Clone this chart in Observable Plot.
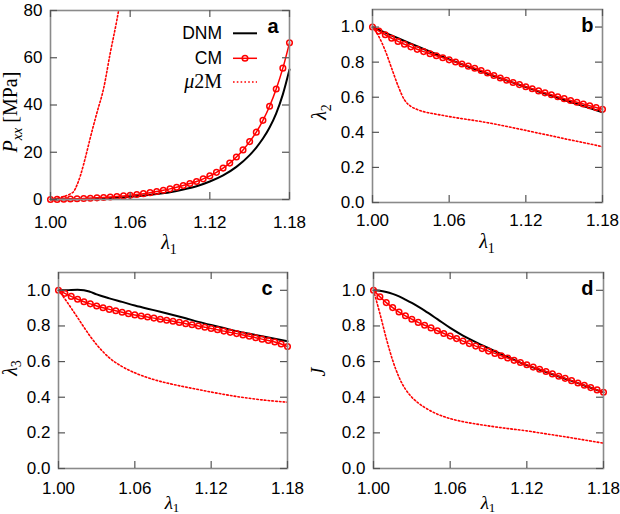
<!DOCTYPE html>
<html><head><meta charset="utf-8">
<script src="https://cdn.jsdelivr.net/npm/d3@7"></script>
<script src="https://cdn.jsdelivr.net/npm/@observablehq/plot@0.6"></script>
<style>
body{margin:0;background:#fff;}
#fig{position:relative;width:620px;height:514px;overflow:hidden;background:#fff;}
.panel{position:absolute;width:310px;height:257px;}
.panel svg{overflow:visible;}
</style></head><body><div id="fig"></div>
<script>
// ---------- data ----------
const xTicks = [1.00, 1.06, 1.12, 1.18];
const pxxTicks = [0, 20, 40, 60, 80];
const stretchTicks = [0, 0.2, 0.4, 0.6, 0.8, 1.0];

// CM grid (markers)
const lamCM = [1.000,1.005,1.010,1.015,1.020,1.025,1.030,1.035,1.040,1.045,1.050,1.055,1.060,1.065,1.070,1.075,1.080,1.085,1.090,1.095,1.100,1.105,1.110,1.115,1.120,1.125,1.130,1.135,1.140,1.145,1.150,1.155,1.160,1.165,1.170,1.175,1.180];
const pxxCM = [0.00,0.05,0.12,0.20,0.30,0.41,0.54,0.69,0.86,1.05,1.27,1.52,1.80,2.12,2.48,2.90,3.37,3.90,4.50,5.20,5.95,6.75,7.65,8.75,10.0,11.5,13.3,15.4,18.0,21.0,24.5,28.5,33.5,39.5,46.8,55.6,66.3];
const l2CM = [1.000,0.977,0.956,0.936,0.918,0.902,0.887,0.873,0.860,0.848,0.836,0.825,0.813,0.801,0.789,0.777,0.765,0.752,0.738,0.724,0.710,0.697,0.684,0.672,0.660,0.648,0.636,0.625,0.614,0.603,0.592,0.581,0.571,0.561,0.551,0.541,0.531];
const l3CM = [1.000,0.983,0.966,0.950,0.936,0.924,0.912,0.902,0.893,0.885,0.877,0.869,0.862,0.856,0.850,0.844,0.838,0.832,0.826,0.820,0.813,0.807,0.800,0.793,0.786,0.779,0.771,0.764,0.757,0.749,0.742,0.734,0.726,0.718,0.710,0.699,0.684];
const jCM  = [1.000,0.964,0.931,0.903,0.878,0.857,0.838,0.820,0.804,0.789,0.773,0.758,0.743,0.729,0.715,0.701,0.687,0.673,0.659,0.646,0.633,0.620,0.607,0.595,0.582,0.569,0.557,0.544,0.531,0.518,0.506,0.493,0.480,0.467,0.454,0.441,0.428];

// DNM
const lamDNMa = [1.00,1.02,1.04,1.06,1.08,1.09,1.10,1.11,1.12,1.13,1.14,1.15,1.155,1.16,1.165,1.17,1.175,1.18];
const pxxDNM  = [0,0.15,0.5,1.15,2.3,3.1,4.2,5.6,7.6,10.2,13.8,18.8,22.0,25.8,30.5,36.5,44.5,55.0];
const lamDNMb = [1.00,1.01,1.02,1.03,1.04,1.05,1.06,1.07,1.08,1.09,1.10,1.11,1.12,1.13,1.14,1.15,1.16,1.17,1.18];
const l2DNM   = [1.000,0.968,0.936,0.905,0.875,0.845,0.816,0.788,0.761,0.734,0.708,0.683,0.658,0.633,0.609,0.584,0.561,0.538,0.514];
const lamDNMc = [1.000,1.005,1.010,1.015,1.020,1.025,1.030,1.040,1.050,1.060,1.070,1.080,1.090,1.100,1.110,1.120,1.130,1.140,1.150,1.160,1.170,1.180];
const l3DNM   = [1.000,1.000,1.002,1.003,1.001,0.991,0.977,0.955,0.935,0.915,0.897,0.880,0.862,0.843,0.823,0.805,0.788,0.771,0.756,0.742,0.728,0.714];
const lamDNMd = [1.000,1.005,1.010,1.015,1.020,1.025,1.030,1.035,1.040,1.050,1.060,1.070,1.080,1.090,1.100,1.110,1.120,1.130,1.140,1.150,1.160,1.170,1.180];
const jDNM    = [1.000,0.998,0.991,0.980,0.966,0.948,0.929,0.908,0.886,0.838,0.789,0.746,0.709,0.675,0.642,0.610,0.580,0.554,0.529,0.504,0.479,0.453,0.427];

// mu2M
const lamMuA = [1.000,1.005,1.010,1.015,1.0175,1.020,1.0225,1.025,1.0275,1.030,1.0325,1.035,1.040,1.045,1.050,1.055];
const pxxMu  = [0,0.5,1.3,2.4,3.4,6.2,10.1,15.0,20.5,26.2,31.6,36.8,47.0,62.0,76.0,92.0];
const lamMu  = [1.000,1.005,1.010,1.015,1.020,1.025,1.030,1.035,1.040,1.050,1.060,1.070,1.080,1.090,1.100,1.110,1.120,1.130,1.140,1.150,1.160,1.170,1.180];
const l2Mu   = [1.000,0.945,0.865,0.765,0.665,0.585,0.548,0.530,0.518,0.503,0.490,0.478,0.467,0.455,0.441,0.426,0.411,0.395,0.380,0.364,0.349,0.334,0.318];
const l3Mu   = [1.000,0.952,0.900,0.847,0.793,0.741,0.695,0.655,0.621,0.572,0.537,0.510,0.489,0.472,0.457,0.443,0.429,0.416,0.404,0.394,0.385,0.378,0.372];
const jMu    = [1.000,0.870,0.730,0.607,0.512,0.445,0.400,0.368,0.343,0.305,0.280,0.263,0.250,0.239,0.229,0.220,0.211,0.200,0.189,0.178,0.166,0.154,0.142];

const seriesNames = ["DNM", "CM", "\u03bc2M"];
const panelLetters = ["a", "b", "c", "d"];

// ---------- drawing ----------
const RED = "#ff0000";
const DOTS = "1.6,2.2";
const SANS = "'Liberation Sans', Arial, Helvetica, sans-serif";
const SERIF = "'Liberation Serif', 'Times New Roman', serif";
const W = 310, H = 257;

function richText(svg, {x, y, rotate = false, anchor = "middle", parts, family = SERIF, size = 20}) {
  const t = d3.select(svg).append("text")
    .attr("transform", `translate(${x},${y})` + (rotate ? " rotate(-90)" : ""))
    .attr("text-anchor", anchor)
    .attr("font-family", family)
    .attr("font-size", size)
    .attr("fill", "#000");
  let shift = 0;
  for (const p of parts) {
    const ts = t.append("tspan").text(p.t);
    if (p.italic) ts.attr("font-style", "italic");
    if (p.bold) ts.attr("font-weight", "bold");
    if (p.size) ts.attr("font-size", p.size);
    const target = p.sub || 0;
    if (target !== shift) { ts.attr("dy", target - shift); shift = target; }
  }
  return t;
}

function panel(cfg) {
  const {left, top, mL, mR, mT, mB, yDomain, yTicks, yFmt, xPad, letter, letterDx, series, extra = []} = cfg;
  const ph = H - mT - mB, pw = W - mL - mR;
  const marks = [
    ...extra,
    Plot.line(series.muX, {x: series.muX, y: series.muY, stroke: RED, strokeWidth: 1.6, strokeDasharray: DOTS, curve: "monotone-x", clip: true}),
    Plot.line(series.dX, {x: series.dX, y: series.dY, stroke: "#000", strokeWidth: 2, curve: "monotone-x"}),
    Plot.line(lamCM, {x: lamCM, y: series.cY, stroke: RED, strokeWidth: 1.5, curve: "monotone-x"}),
    Plot.dot(lamCM, {x: lamCM, y: series.cY, r: 2.8, stroke: RED, strokeWidth: 1.5, fill: "none"}),
    Plot.frame({stroke: "#8a8a8a", strokeWidth: 1.6}),
    Plot.tickX(xTicks, {x: d => d, insetTop: ph - 7, stroke: "#555", strokeWidth: 1.2}),
    Plot.tickX(xTicks, {x: d => d, insetBottom: ph - 7, stroke: "#555", strokeWidth: 1.2}),
    Plot.tickY(yTicks, {y: d => d, insetRight: pw - 7, stroke: "#555", strokeWidth: 1.2}),
    Plot.tickY(yTicks, {y: d => d, insetLeft: pw - 7, stroke: "#555", strokeWidth: 1.2}),
    Plot.axisX(xTicks, {tickSize: 0, tickPadding: xPad, tickFormat: d3.format(".2f"), label: null}),
    Plot.axisY(yTicks, {tickSize: 0, tickPadding: 8, tickFormat: yFmt, label: null}),
    Plot.text([letter], {frameAnchor: "top-right", text: d => d, dx: letterDx, dy: 22, lineAnchor: "bottom", textAnchor: "end", fontWeight: "bold", fontSize: 20, fill: "#000"})
  ];
  const svg = Plot.plot({
    width: W, height: H,
    marginLeft: mL, marginRight: mR, marginTop: mT, marginBottom: mB,
    x: {domain: [1.0, 1.18], label: null},
    y: {domain: yDomain, label: null},
    style: {fontFamily: SANS, fontSize: "17px", color: "#000", background: "transparent", overflow: "visible"},
    marks
  });
  const div = document.createElement("div");
  div.className = "panel";
  div.style.left = left + "px";
  div.style.top = top + "px";
  div.appendChild(svg);
  document.getElementById("fig").appendChild(div);
  return svg;
}

const f1 = d3.format(".1f");

// Panel a
const sa = panel({left: 0, top: 0, mL: 50, mR: 21, mT: 10, mB: 58, yDomain: [0, 80], yTicks: pxxTicks, yFmt: d => String(d), xPad: 16,
  letter: panelLetters[0], letterDx: -11,
  series: {muX: lamMuA, muY: pxxMu, dX: lamDNMa, dY: pxxDNM, cY: pxxCM},
  extra: [Plot.ruleY([0], {stroke: "#999", strokeWidth: 1, strokeDasharray: "1.5,2.5"})]});
// Panel b
const sb = panel({left: 310, top: 0, mL: 62, mR: 18, mT: 9, mB: 55, yDomain: [0, 1.1], yTicks: stretchTicks, yFmt: f1, xPad: 11,
  letter: panelLetters[1], letterDx: -9,
  series: {muX: lamMu, muY: l2Mu, dX: lamDNMb, dY: l2DNM, cY: l2CM}});
// Panel c
const sc = panel({left: 0, top: 257, mL: 58, mR: 23, mT: 15, mB: 46, yDomain: [0, 1.1], yTicks: stretchTicks, yFmt: f1, xPad: 13,
  letter: panelLetters[2], letterDx: -15,
  series: {muX: lamMu, muY: l3Mu, dX: lamDNMc, dY: l3DNM, cY: l3CM}});
// Panel d
const sd = panel({left: 310, top: 257, mL: 63, mR: 17, mT: 15, mB: 46, yDomain: [0, 1.1], yTicks: stretchTicks, yFmt: f1, xPad: 13,
  letter: panelLetters[3], letterDx: -10,
  series: {muX: lamMu, muY: jMu, dX: lamDNMd, dY: jDNM, cY: jCM}});

// axis labels
const lam1 = [{t: "\u03bb", italic: true}, {t: "1", size: 14, sub: 5}];
const lam1low = [{t: "\u03bb", italic: true}, {t: "1", size: 13, sub: 3}];
richText(sa, {x: 169, y: 249, parts: lam1});
richText(sb, {x: 177, y: 248, parts: lam1});
richText(sc, {x: 172, y: 252, size: 19, parts: lam1low});
richText(sd, {x: 178, y: 252, size: 19, parts: lam1low});

richText(sa, {x: 16.5, y: 112, rotate: true, parts: [{t: "P", italic: true}, {t: "xx", italic: true, size: 14, sub: 5}, {t: " [MPa]", sub: 0}]});
richText(sb, {x: 16, y: 112, rotate: true, parts: [{t: "\u03bb", italic: true}, {t: "2", size: 14, sub: 5}]});
richText(sc, {x: 17, y: 111, rotate: true, parts: [{t: "\u03bb", italic: true}, {t: "3", size: 14, sub: 4}]});
richText(sd, {x: 15, y: 115, rotate: true, parts: [{t: "J", italic: true}]});

// legend (panel a)
const lg = d3.select(sa).append("g");
const rows = [33.3, 58.3, 82];
richText(sa, {x: 222, y: 39, anchor: "end", family: SANS, size: 17.5, parts: [{t: seriesNames[0]}]});
richText(sa, {x: 222, y: 64, anchor: "end", family: SANS, size: 17.5, parts: [{t: seriesNames[1]}]});
richText(sa, {x: 222, y: 88, anchor: "end", family: SERIF, size: 20, parts: [{t: "\u03bc", italic: true}, {t: "2M"}]});
lg.append("line").attr("x1", 233).attr("x2", 257).attr("y1", rows[0]).attr("y2", rows[0]).attr("stroke", "#000").attr("stroke-width", 2);
lg.append("line").attr("x1", 233).attr("x2", 257).attr("y1", rows[1]).attr("y2", rows[1]).attr("stroke", RED).attr("stroke-width", 1.5);
lg.append("circle").attr("cx", 245).attr("cy", rows[1]).attr("r", 2.8).attr("fill", "none").attr("stroke", RED).attr("stroke-width", 1.5);
lg.append("line").attr("x1", 233).attr("x2", 257).attr("y1", rows[2]).attr("y2", rows[2]).attr("stroke", RED).attr("stroke-width", 1.6).attr("stroke-dasharray", DOTS);
</script>
</body></html>
